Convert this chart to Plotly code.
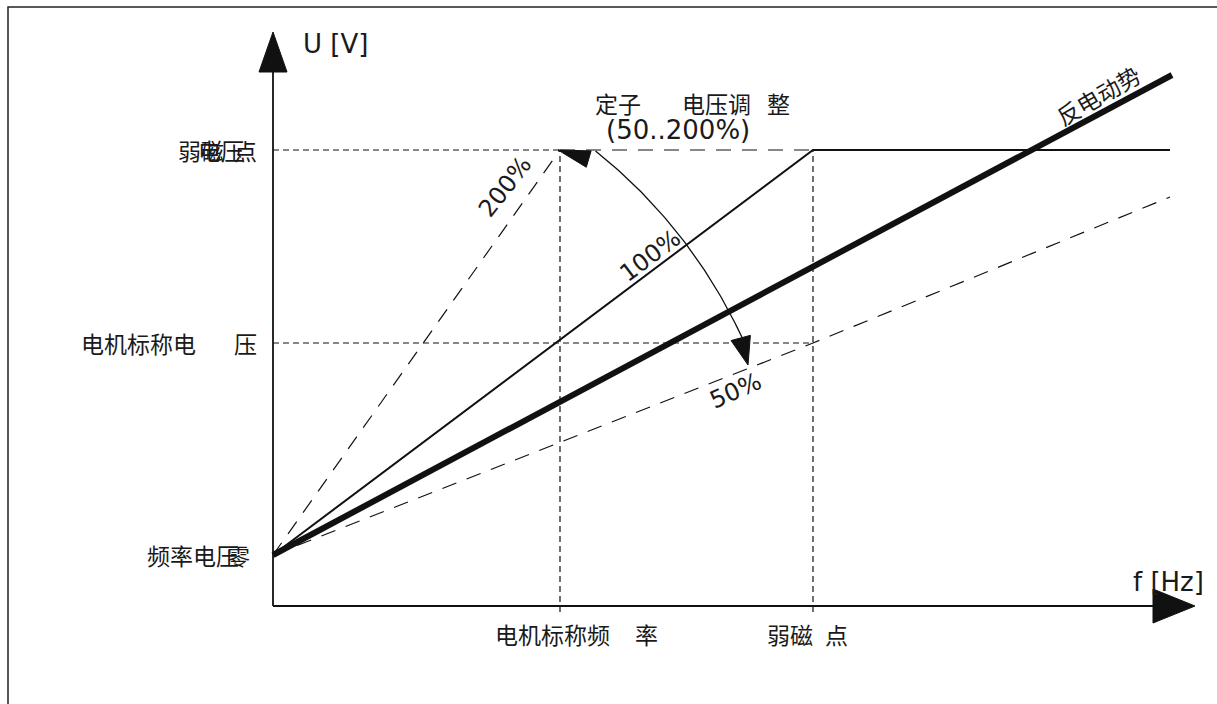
import numpy as np
import plotly.graph_objects as go

# ---------------- data (diagram units, origin at axis crossing) ----------------
freq_nominal = 287          # 电机标称频率
freq_weak = 540             # 弱磁点
freq_end = 897              # right end of curves
u_zero = 51                 # 零频率电压
u_nominal = 263             # 电机标称电压
u_weak = 456                # 弱磁点电压
emf_x = [0, 899]            # 反电动势
emf_y = [51, 531]
curve100_x = [0, freq_weak, freq_end]
curve100_y = [u_zero, u_weak, u_weak]
curve200_x = [0, freq_nominal]
curve200_y = [u_zero, u_weak]
curve50_x = [0, freq_weak, freq_end]
curve50_y = [u_zero, u_nominal, 409]

pct_labels = ["200%", "100%", "50%"]
y_labels = ["弱磁 点", "电机标称电 压", "频率电 压零"]
x_labels = ["电机标称频 率", "弱磁 点"]

# ---------------- figure ----------------
W, H = 1217, 704
OX, OY = 273, 606           # pixel position of origin
XR = [-OX, W - OX]
YR = [OY - H, OY]

def px(x):  # pixel x -> data
    return x - OX

def py(y):  # pixel y -> data
    return OY - y

fig = go.Figure()
BLK = "#111111"
LAT = "DejaVu Sans, Verdana, sans-serif"
CJK = "Noto Sans CJK SC, sans-serif"

def line(x, y, width=1.5, dash=None, color=BLK):
    fig.add_trace(go.Scatter(x=x, y=y, mode="lines", hoverinfo="skip",
                             line=dict(color=color, width=width, dash=dash),
                             showlegend=False))

def tri(tip, direction, length, width):
    d = np.array(direction, float)
    d /= np.linalg.norm(d)
    n = np.array([-d[1], d[0]])
    t = np.array(tip, float)
    b = t - d * length
    pts = [t, b + n * width / 2, b - n * width / 2, t]
    fig.add_trace(go.Scatter(x=[p[0] for p in pts], y=[p[1] for p in pts],
                             mode="lines", fill="toself", fillcolor=BLK,
                             line=dict(color=BLK, width=1), hoverinfo="skip",
                             showlegend=False))

SHORT = "6px,4px"
LONG = "15px,11px"

# reference dashed lines
line([0, freq_nominal], [u_weak, u_weak], 1.2, SHORT)
line([freq_nominal, freq_weak], [u_weak, u_weak], 1.2, LONG)
line([0, freq_weak], [u_nominal, u_nominal], 1.2, SHORT)
line([freq_nominal, freq_nominal], [-6, u_weak], 1.2, SHORT)
line([freq_weak, freq_weak], [-6, u_weak], 1.2, SHORT)

# curves
line(curve200_x, curve200_y, 1.2, LONG)
line(curve50_x, curve50_y, 1.2, LONG)
line(curve100_x, curve100_y, 2.0)
line(emf_x, emf_y, 6.0)

# axes
line([0, 0], [0, py(72)], 1.8)
tri((0, py(32)), (0, 1), 40, 28)
line([0, px(1153)], [0, 0], 1.8)
tri((px(1195), 0), (1, 0), 42, 34)

# adjustment arc
R = 517
ang = np.radians(np.linspace(51.4, 24.9, 60))
line(list(R * np.cos(ang)), list(u_zero + R * np.sin(ang)), 1.3)
tri((px(558), py(150)), (-30.5, 9), 32, 17)
tri((px(748), py(365)), (7, -26), 28, 20)

# frame (partially outside view)
fig.add_shape(type="path", path=f"M {px(8)} {py(760)} L {px(8)} {py(7)} L {px(1300)} {py(7)}",
              line=dict(color="#222", width=1.5), xref="x", yref="y")

# ---------------- text ----------------
def txt(s, x, y, size=23, font=CJK, xa="left", angle=0, ya="middle"):
    fig.add_annotation(x=x, y=y, text=s, showarrow=False, xanchor=xa, yanchor=ya,
                       textangle=angle, font=dict(family=font, size=size, color="#1a1a1a"))

# axis titles
txt("U [V]", px(301), py(44), 26, LAT)
txt("f [Hz]", px(1131), py(582), 26, LAT)

# y labels
a, b = y_labels[0].split(" ")
txt(a, px(176), u_weak)
txt("电压", px(196), u_weak)
txt(b, px(259), u_weak, xa="right")
a, b = y_labels[1].split(" ")
txt(a, px(79), u_nominal)
txt(b, px(259), u_nominal, xa="right")
a, b = y_labels[2].split(" ")
txt(a + b[0], px(145), u_zero)
txt(b[1], px(225), u_zero)

# x labels
a, b = x_labels[0].split(" ")
txt(a, px(493), py(634))
txt(b, px(633), py(634))
a, b = x_labels[1].split(" ")
txt(a, px(765), py(634))
txt(b, px(823), py(634))

# title of adjustment
txt("定子", px(593), py(103))
txt("电压调", px(680), py(103))
txt("整", px(765), py(103))
txt("(50..200%)", px(678), py(130), 26, LAT, xa="center")

# percent labels
txt(pct_labels[0], px(505), py(187), 24, LAT, xa="center", angle=-52)
txt(pct_labels[1], px(650), py(256), 24, LAT, xa="center", angle=-37)
txt(pct_labels[2], px(735), py(391), 24, LAT, xa="center", angle=-24)
txt("反电动势", px(1098), py(95), 23, CJK, xa="center", angle=-30)

fig.update_layout(
    width=W, height=H, margin=dict(l=0, r=0, t=0, b=0),
    paper_bgcolor="white", plot_bgcolor="white", showlegend=False,
    xaxis=dict(range=XR, visible=False, fixedrange=True),
    yaxis=dict(range=YR, visible=False, fixedrange=True),
)
fig.write_html("out.html", config={"displayModeBar": False},
               post_script="document.body.style.margin='0';document.body.style.overflow='hidden';")
